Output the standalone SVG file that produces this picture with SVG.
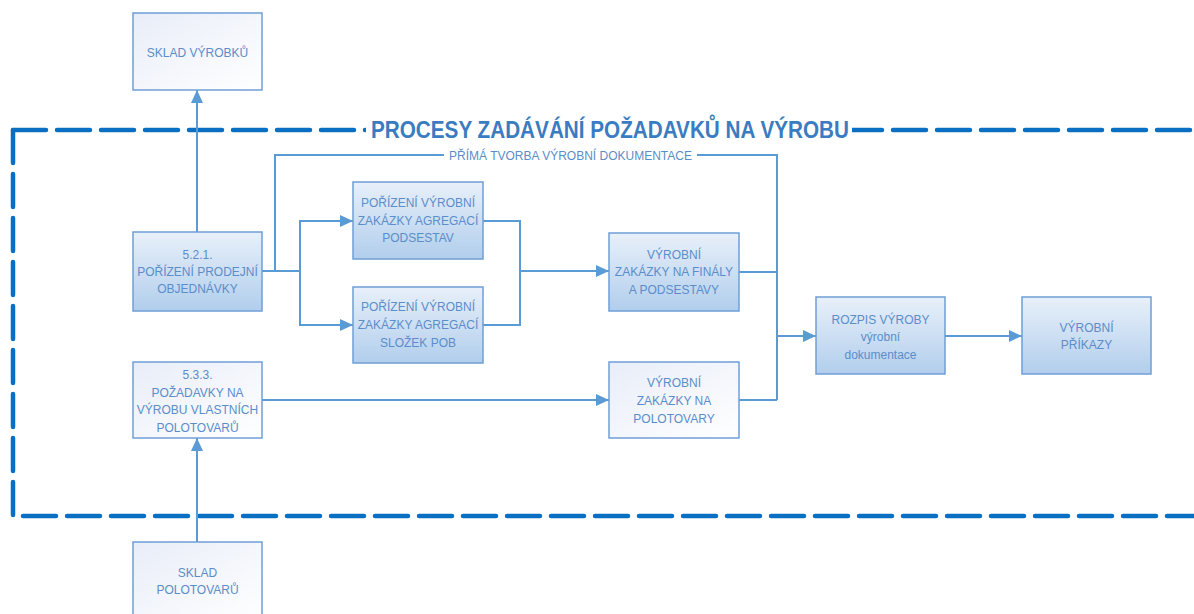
<svg xmlns="http://www.w3.org/2000/svg" width="1194" height="614" viewBox="0 0 1194 614">
<defs>
<linearGradient id="gBlue" x1="0" y1="0" x2="0" y2="1">
<stop offset="0" stop-color="#e8f0fa"/>
<stop offset="1" stop-color="#b1ceec"/>
</linearGradient>
<linearGradient id="gWhite" x1="0" y1="0" x2="1" y2="1">
<stop offset="0" stop-color="#e8edf8"/>
<stop offset="1" stop-color="#ffffff"/>
</linearGradient>
<marker id="ah" markerWidth="13" markerHeight="12" refX="13" refY="6" orient="auto" markerUnits="userSpaceOnUse">
<path d="M0,0 L13,6 L0,12 z" fill="#5b9bd5"/>
</marker>
<style>
.box{stroke:#6f9fd6;stroke-width:1.5}
.blue{fill:url(#gBlue)}
.white{fill:url(#gWhite)}
.t{font-family:"Liberation Sans",Arial,sans-serif;font-size:12px;fill:#5b8dca;text-anchor:middle}
.c{fill:none;stroke:#5b9bd5;stroke-width:2}
.a{marker-end:url(#ah)}
.dash{fill:none;stroke:#0a6fc2;stroke-width:4.5;stroke-dasharray:33 11;stroke-linecap:round}
</style>
</defs>
<rect width="1194" height="614" fill="#ffffff"/>
<g id="boundary">
<path class="dash" d="M13,130 H1200"/>
<path class="dash" d="M13,130 V516 H1200"/>
<rect x="366" y="118" width="486" height="24" fill="#ffffff"/>
<text x="610" y="138" font-family="'Liberation Sans',Arial,sans-serif" font-size="23" font-weight="bold" fill="#3a7cc1" text-anchor="middle" textLength="478" lengthAdjust="spacingAndGlyphs">PROCESY ZADÁVÁNÍ POŽADAVKŮ NA VÝROBU</text>
</g>
<g id="connectors">
<path class="c a" d="M197,232 V90"/>
<path class="c" d="M262,271 H300"/>
<path class="c" d="M275,271 V155 H777 V400"/>
<path class="c a" d="M300,271 V221 H353"/>
<path class="c a" d="M300,271 V325 H353"/>
<path class="c" d="M483,221 H520 V325 H483"/>
<path class="c a" d="M520,271 H609"/>
<path class="c" d="M739,272 H777"/>
<path class="c" d="M739,400 H777"/>
<path class="c a" d="M777,336 H816"/>
<path class="c a" d="M262,400 H609"/>
<path class="c a" d="M197,542 V438"/>
<path class="c a" d="M945,336 H1022"/>
<rect x="444" y="148" width="253" height="15" fill="#ffffff"/>
<text class="t" x="570.5" y="159.5">PŘÍMÁ TVORBA VÝROBNÍ DOKUMENTACE</text>
</g>
<g id="sklad-vyrobku">
<rect class="box white" x="133" y="13" width="129" height="77"/>
<text class="t" x="197.5" y="57">SKLAD VÝROBKŮ</text>
</g>
<g id="n521">
<rect class="box blue" x="133" y="232" width="129" height="79"/>
<text class="t" x="197.5" y="259">5.2.1.</text>
<text class="t" x="197.5" y="276">POŘÍZENÍ PRODEJNÍ</text>
<text class="t" x="197.5" y="293">OBJEDNÁVKY</text>
</g>
<g id="podsestav">
<rect class="box blue" x="353" y="182" width="130" height="77"/>
<text class="t" x="418" y="207">POŘÍZENÍ VÝROBNÍ</text>
<text class="t" x="418" y="225">ZAKÁZKY AGREGACÍ</text>
<text class="t" x="418" y="242">PODSESTAV</text>
</g>
<g id="slozek">
<rect class="box blue" x="353" y="287" width="130" height="76"/>
<text class="t" x="418" y="311">POŘÍZENÍ VÝROBNÍ</text>
<text class="t" x="418" y="329">ZAKÁZKY AGREGACÍ</text>
<text class="t" x="418" y="347">SLOŽEK POB</text>
</g>
<g id="finaly">
<rect class="box blue" x="609" y="233" width="130" height="78"/>
<text class="t" x="674" y="259">VÝROBNÍ</text>
<text class="t" x="674" y="276">ZAKÁZKY NA FINÁLY</text>
<text class="t" x="674" y="294">A PODSESTAVY</text>
</g>
<g id="polotovary">
<rect class="box white" x="609" y="362" width="130" height="76"/>
<text class="t" x="674" y="387">VÝROBNÍ</text>
<text class="t" x="674" y="405">ZAKÁZKY NA</text>
<text class="t" x="674" y="423">POLOTOVARY</text>
</g>
<g id="n533">
<rect class="box white" x="133" y="362" width="129" height="76"/>
<text class="t" x="197.5" y="379">5.3.3.</text>
<text class="t" x="197.5" y="397">POŽADAVKY NA</text>
<text class="t" x="197.5" y="414">VÝROBU VLASTNÍCH</text>
<text class="t" x="197.5" y="432">POLOTOVARŮ</text>
</g>
<g id="sklad-polotovaru">
<rect class="box white" x="133" y="542" width="129" height="80"/>
<text class="t" x="197.5" y="577">SKLAD</text>
<text class="t" x="197.5" y="594">POLOTOVARŮ</text>
</g>
<g id="rozpis">
<rect class="box blue" x="816" y="297" width="129" height="77"/>
<text class="t" x="880.5" y="324">ROZPIS VÝROBY</text>
<text class="t" x="880.5" y="341">výrobní</text>
<text class="t" x="880.5" y="359">dokumentace</text>
</g>
<g id="prikazy">
<rect class="box blue" x="1022" y="297" width="129" height="77"/>
<text class="t" x="1086.5" y="332">VÝROBNÍ</text>
<text class="t" x="1086.5" y="349">PŘÍKAZY</text>
</g>
</svg>
